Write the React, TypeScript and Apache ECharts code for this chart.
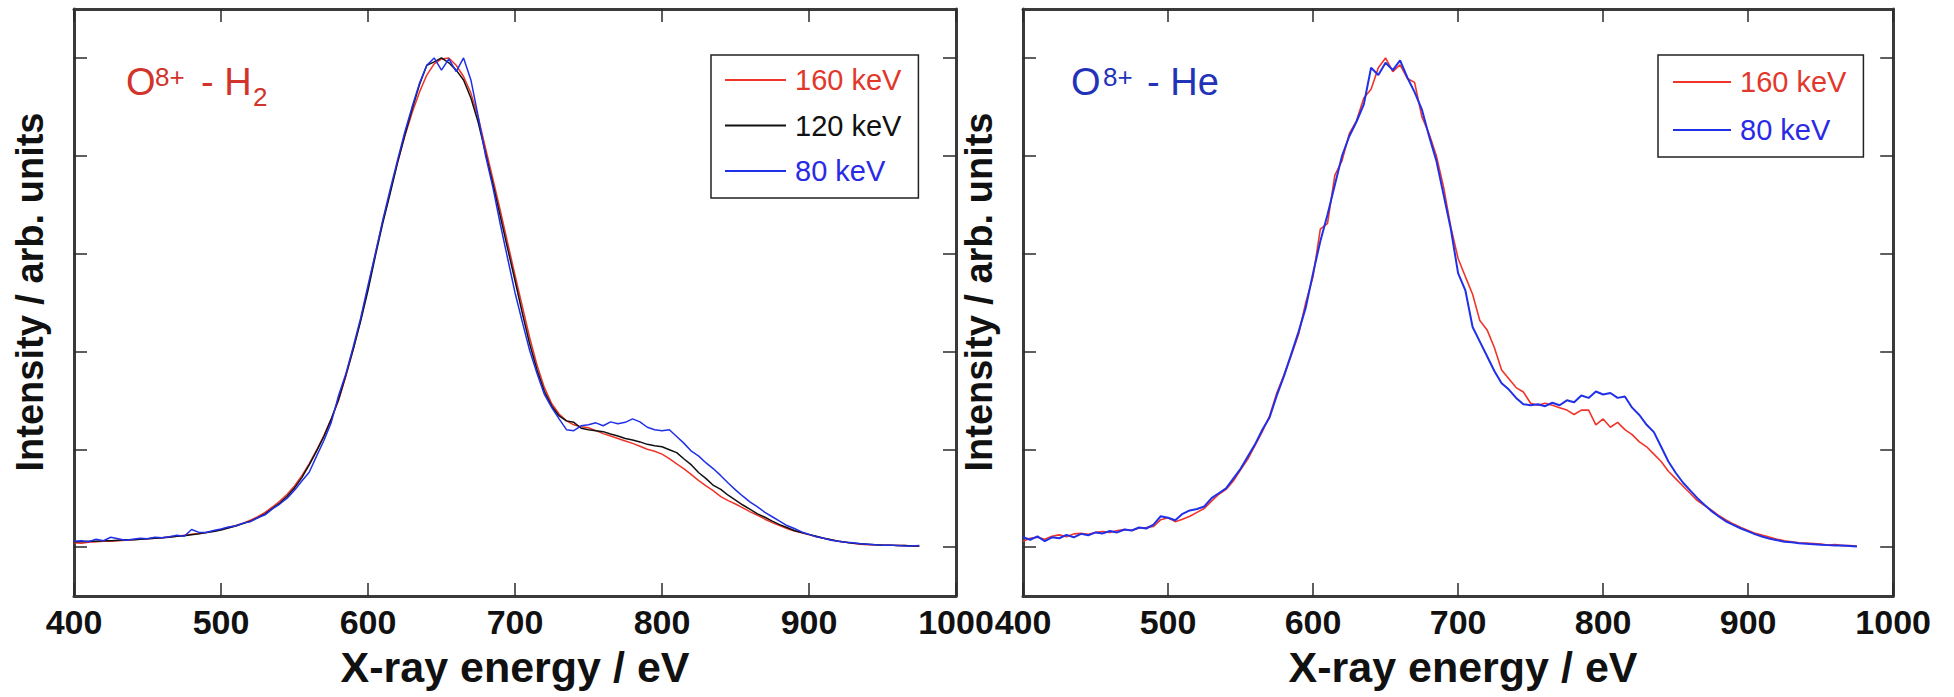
import React, { useEffect, useRef } from "react";
import * as echarts from "echarts";

// X-ray energy grid (eV)
const energy = [
  400, 405, 410, 415, 420, 425, 430, 435, 440, 445, 450, 455, 460, 465, 470, 475, 480, 485, 490, 495,
  500, 505, 510, 515, 520, 525, 530, 535, 540, 545, 550, 555, 560, 565, 570, 575, 580, 585, 590, 595,
  600, 605, 610, 615, 620, 625, 630, 635, 640, 645, 650, 655, 660, 665, 670, 675, 680, 685, 690, 695,
  700, 705, 710, 715, 720, 725, 730, 735, 740, 745, 750, 755, 760, 765, 770, 775, 780, 785, 790, 795,
  800, 805, 810, 815, 820, 825, 830, 835, 840, 845, 850, 855, 860, 865, 870, 875, 880, 885, 890, 895,
  900, 905, 910, 915, 920, 925, 930, 935, 940, 945, 950, 955, 960, 965, 970, 975,
];

// O8+ - H2
const h2_160 = [
  0.009, 0.008, 0.010, 0.011, 0.012, 0.012, 0.013, 0.014, 0.015, 0.016, 0.017, 0.018, 0.019, 0.021, 0.022, 0.024, 0.026, 0.028, 0.030, 0.033,
  0.036, 0.040, 0.044, 0.049, 0.055, 0.062, 0.071, 0.082, 0.094, 0.108, 0.125, 0.146, 0.170, 0.198, 0.228, 0.262, 0.300, 0.350, 0.405, 0.465,
  0.530, 0.600, 0.665, 0.725, 0.785, 0.840, 0.888, 0.930, 0.965, 0.988, 0.998, 1.000, 0.985, 0.962, 0.928, 0.878, 0.815, 0.752, 0.688, 0.622,
  0.556, 0.492, 0.428, 0.372, 0.326, 0.293, 0.272, 0.258, 0.250, 0.246, 0.244, 0.238, 0.232, 0.227, 0.222, 0.217, 0.212, 0.206, 0.200, 0.196,
  0.190, 0.181, 0.170, 0.160, 0.148, 0.136, 0.125, 0.115, 0.103, 0.095, 0.088, 0.080, 0.072, 0.065, 0.057, 0.050, 0.044, 0.038, 0.033, 0.029,
  0.025, 0.021, 0.018, 0.015, 0.012, 0.010, 0.008, 0.006, 0.005, 0.005, 0.004, 0.004, 0.003, 0.003, 0.002, 0.002,
];
const h2_120 = [
  0.011, 0.011, 0.012, 0.012, 0.013, 0.013, 0.014, 0.015, 0.015, 0.016, 0.017, 0.018, 0.019, 0.020, 0.022, 0.023, 0.025, 0.027, 0.030, 0.032,
  0.035, 0.039, 0.043, 0.048, 0.053, 0.060, 0.068, 0.079, 0.090, 0.104, 0.121, 0.142, 0.168, 0.196, 0.226, 0.262, 0.302, 0.352, 0.405, 0.462,
  0.525, 0.595, 0.662, 0.722, 0.785, 0.842, 0.895, 0.945, 0.985, 0.992, 1.000, 0.990, 0.975, 0.955, 0.918, 0.868, 0.805, 0.742, 0.676, 0.610,
  0.545, 0.478, 0.415, 0.362, 0.318, 0.288, 0.268, 0.258, 0.255, 0.243, 0.240, 0.238, 0.236, 0.231, 0.227, 0.222, 0.219, 0.215, 0.210, 0.207,
  0.205, 0.199, 0.193, 0.180, 0.168, 0.152, 0.140, 0.126, 0.118, 0.106, 0.096, 0.086, 0.077, 0.068, 0.061, 0.053, 0.046, 0.040, 0.034, 0.030,
  0.026, 0.022, 0.018, 0.015, 0.012, 0.010, 0.008, 0.007, 0.006, 0.005, 0.004, 0.004, 0.003, 0.003, 0.002, 0.002,
];
const h2_80 = [
  0.012, 0.013, 0.011, 0.016, 0.013, 0.020, 0.017, 0.014, 0.016, 0.018, 0.017, 0.020, 0.019, 0.021, 0.024, 0.022, 0.036, 0.030, 0.030, 0.034,
  0.037, 0.041, 0.043, 0.049, 0.052, 0.060, 0.066, 0.078, 0.088, 0.100, 0.116, 0.135, 0.153, 0.186, 0.218, 0.255, 0.310, 0.355, 0.410, 0.468,
  0.535, 0.600, 0.668, 0.730, 0.790, 0.848, 0.900, 0.948, 0.985, 1.000, 0.975, 0.998, 0.972, 1.000, 0.955, 0.880, 0.800, 0.735, 0.660, 0.590,
  0.520, 0.460, 0.402, 0.355, 0.312, 0.285, 0.262, 0.240, 0.238, 0.248, 0.250, 0.254, 0.248, 0.256, 0.252, 0.255, 0.262, 0.256, 0.245, 0.240,
  0.238, 0.240, 0.226, 0.212, 0.196, 0.186, 0.172, 0.160, 0.146, 0.131, 0.117, 0.104, 0.092, 0.082, 0.071, 0.062, 0.053, 0.044, 0.038, 0.031,
  0.026, 0.021, 0.018, 0.014, 0.012, 0.010, 0.009, 0.007, 0.006, 0.005, 0.004, 0.004, 0.003, 0.002, 0.002, 0.003,
];

// O8+ - He
const he_160 = [
  0.012, 0.018, 0.020, 0.016, 0.022, 0.025, 0.021, 0.027, 0.028, 0.026, 0.030, 0.032, 0.030, 0.034, 0.036, 0.034, 0.039, 0.040, 0.042, 0.056,
  0.060, 0.052, 0.057, 0.063, 0.071, 0.079, 0.094, 0.108, 0.118, 0.135, 0.158, 0.180, 0.208, 0.236, 0.268, 0.315, 0.352, 0.392, 0.435, 0.500,
  0.553, 0.650, 0.662, 0.760, 0.790, 0.845, 0.872, 0.918, 0.936, 0.980, 1.000, 0.972, 0.986, 0.958, 0.950, 0.880, 0.845, 0.800, 0.736, 0.654,
  0.590, 0.553, 0.517, 0.463, 0.444, 0.408, 0.362, 0.344, 0.326, 0.317, 0.294, 0.290, 0.294, 0.290, 0.285, 0.280, 0.271, 0.280, 0.280, 0.250,
  0.262, 0.245, 0.255, 0.240, 0.230, 0.215, 0.205, 0.190, 0.175, 0.155, 0.140, 0.125, 0.110, 0.095, 0.085, 0.075, 0.064, 0.055, 0.047, 0.040,
  0.034, 0.028, 0.024, 0.020, 0.016, 0.013, 0.011, 0.009, 0.008, 0.007, 0.006, 0.004, 0.005, 0.003, 0.003, 0.002,
];
const he_80 = [
  0.020, 0.015, 0.022, 0.012, 0.020, 0.018, 0.025, 0.020, 0.027, 0.024, 0.030, 0.028, 0.033, 0.030, 0.036, 0.034, 0.040, 0.038, 0.046, 0.063,
  0.060, 0.055, 0.068, 0.075, 0.078, 0.083, 0.100, 0.110, 0.120, 0.140, 0.160, 0.185, 0.210, 0.240, 0.265, 0.310, 0.350, 0.395, 0.440, 0.490,
  0.560, 0.625, 0.680, 0.740, 0.800, 0.840, 0.870, 0.905, 0.980, 0.965, 0.990, 0.975, 0.995, 0.960, 0.930, 0.895, 0.840, 0.790, 0.720, 0.650,
  0.560, 0.525, 0.450, 0.420, 0.390, 0.360, 0.335, 0.322, 0.305, 0.292, 0.290, 0.292, 0.288, 0.295, 0.290, 0.300, 0.296, 0.310, 0.305, 0.318,
  0.312, 0.315, 0.305, 0.308, 0.285, 0.270, 0.250, 0.235, 0.205, 0.175, 0.152, 0.132, 0.116, 0.100, 0.086, 0.073, 0.062, 0.052, 0.045, 0.038,
  0.032, 0.026, 0.021, 0.017, 0.014, 0.011, 0.010, 0.008, 0.007, 0.006, 0.005, 0.004, 0.003, 0.003, 0.002, 0.001,
];

const xTicks = [400, 1000, 100];
const xTickValues = [400, 500, 600, 700, 800, 900, 1000];
const yTickValues = [0, 0.2, 0.4, 0.6, 0.8, 1.0];
const yRange = [-0.1, 1.1];

const RED = "#f0342a";
const BLACK = "#111111";
const BLUE = "#2030e8";
const FONT = '"Liberation Sans", Arial, Helvetica, sans-serif';

const toPairs = (ys: number[]) => energy.map((e, i) => [e, ys[i]]);

export default function App() {
  const ref = useRef<HTMLDivElement>(null);
  useEffect(() => {
    if (!ref.current) return;
    const chart = echarts.init(ref.current, undefined, { renderer: "svg" });
    const mkAxisLine = () => ({ show: true, onZero: false, lineStyle: { color: "#3a3a3a", width: 3 } });
    const mkTick = (values: number[]) => ({
      show: true,
      inside: true,
      length: 13,
      customValues: values,
      lineStyle: { color: "#2a2a2a", width: 1.5 },
    });
    const mkX = (gridIndex: number, position: string, labels: boolean) => ({
      type: "value",
      gridIndex,
      position,
      min: xTicks[0],
      max: xTicks[1],
      interval: xTicks[2],
      axisLine: mkAxisLine(),
      axisTick: mkTick(xTickValues),
      splitLine: { show: false },
      axisLabel: labels
        ? {
            show: true,
            fontSize: 34,
            fontWeight: "bold",
            fontFamily: FONT,
            color: "#111",
            margin: 9,
            showMinLabel: true,
            showMaxLabel: true,
            formatter: (v: number) => String(v),
          }
        : { show: false },
    });
    const mkY = (gridIndex: number, position: string) => ({
      type: "value",
      gridIndex,
      position,
      min: yRange[0],
      max: yRange[1],
      axisLine: mkAxisLine(),
      axisTick: mkTick(yTickValues),
      axisLabel: { show: false },
      splitLine: { show: false },
    });
    const line = (name: string, data: number[], color: string, xi: number, yi: number, width = 1.5) => ({
      type: "line",
      name,
      data: toPairs(data),
      xAxisIndex: xi,
      yAxisIndex: yi,
      symbol: "none",
      showSymbol: false,
      lineStyle: { color, width },
      itemStyle: { color },
      color,
    });
    const txt = (text: string, x: number, y: number, size: number, color: string, extra: any = {}) => ({
      type: "text",
      x,
      y,
      z: 100,
      rotation: extra.rotation || 0,
      style: {
        text,
        fontSize: size,
        fontFamily: FONT,
        fill: color,
        align: extra.align || "left",
        verticalAlign: "middle",
        fontWeight: extra.bold ? "bold" : "normal",
      },
    });
    const legendBase = {
      orient: "vertical",
      top: 55,
      itemHeight: 2,
      icon: "rect",
      borderColor: "#222",
      borderWidth: 1.5,
      backgroundColor: "#fff",
      selectedMode: false,
      textStyle: { fontSize: 29, lineHeight: 30, fontFamily: FONT, padding: [0, 0, 0, 4] },
    };
    chart.setOption({
      animation: false,
      backgroundColor: "#ffffff",
      textStyle: { fontFamily: FONT },
      grid: [
        { left: 74, top: 9, width: 882, height: 587 },
        { left: 1023, top: 9, width: 880, height: 587 },
      ],
      xAxis: [mkX(0, "bottom", true), mkX(0, "top", false), mkX(1, "bottom", true), mkX(1, "top", false)],
      yAxis: [mkY(0, "left"), mkY(0, "right"), mkY(1, "left"), mkY(1, "right")],
      legend: [
        {
          ...legendBase,
          left: 711,
          padding: [10, 17, 12, 14],
          itemGap: 15.5,
          itemWidth: 61,
          data: [
            { name: "160 keV", textStyle: { color: "#e2372b" }, itemStyle: { color: RED } },
            { name: "120 keV", textStyle: { color: "#111" }, itemStyle: { color: BLACK } },
            { name: "80 keV", textStyle: { color: "#2a2ae6" }, itemStyle: { color: BLUE } },
          ],
        },
        {
          ...legendBase,
          left: 1658,
          padding: [12, 17, 12, 15],
          itemGap: 18,
          itemWidth: 58,
          data: [
            { name: "160 keV", textStyle: { color: "#e2372b" }, itemStyle: { color: RED } },
            { name: "80 keV", textStyle: { color: "#2a2ae6" }, itemStyle: { color: BLUE } },
          ],
        },
      ],
      series: [
        line("160 keV", h2_160, RED, 0, 0),
        line("120 keV", h2_120, BLACK, 0, 0),
        line("80 keV", h2_80, BLUE, 0, 0),
        line("160 keV", he_160, RED, 2, 2, 1.6),
        line("80 keV", he_80, BLUE, 2, 2, 2),
      ],
      graphic: [
        txt("Intensity / arb. units", 30, 292, 38, "#111", { rotation: Math.PI / 2, align: "center", bold: true }),
        txt("Intensity / arb. units", 979, 292, 38, "#111", { rotation: Math.PI / 2, align: "center", bold: true }),
        txt("X-ray energy / eV", 515, 667, 43, "#111", { align: "center", bold: true }),
        txt("X-ray energy / eV", 1463, 667, 43, "#111", { align: "center", bold: true }),
        txt("O", 126, 81.5, 38, "#d2332a"),
        txt("8+", 155, 76.5, 26, "#d2332a"),
        txt("- H", 201, 81.5, 38, "#d2332a"),
        txt("2", 253, 96.5, 26, "#d2332a"),
        txt("O", 1071, 81.5, 38, "#2333b8"),
        txt("8+", 1103, 76.5, 26, "#2333b8"),
        txt("- He", 1147, 81.5, 38, "#2333b8"),
      ],
    });
    return () => chart.dispose();
  }, []);
  return (
    <div
      ref={ref}
      style={{ position: "absolute", left: 0, top: 0, width: 1934, height: 697, background: "#fff" }}
    />
  );
}
